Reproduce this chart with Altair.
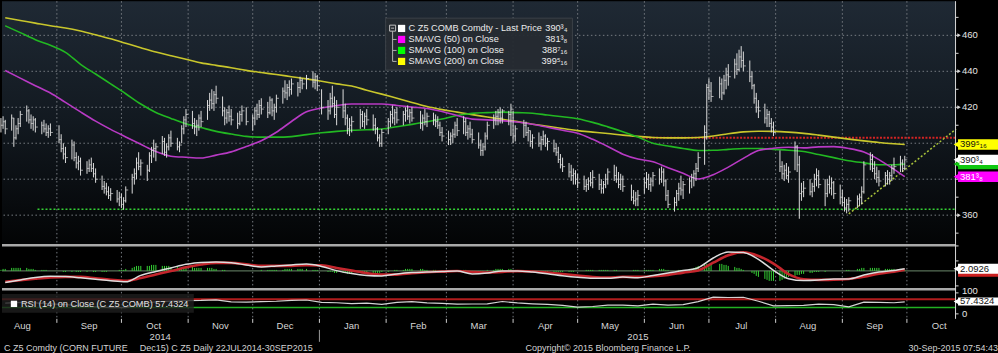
import altair as alt
import pandas as pd

# ---------------------------------------------------------------- data
# daily bars per trading day: (high, low, close, macd histogram)
aug_2014 = [(414,406,410,1),(415,408,412,2),(413,405,408,2),(416,407,414,3),(414,398,403,3),(410,402,408,3),
            (414,405,411,3),(418,409,416,3),(421,412,418,3),(419,411,413,2),(416,408,411,2),(415,407,413,2),
            (414,406,409,1),(412,405,410,1),(413,406,408,1),(411,404,406,1),(410,403,408,0),(411,404,406,0)]
sep_2014 = [(410,400,402,0),(405,395,397,0),(400,391,394,-1),(398,389,392,-1),(402,391,399,-1),(401,390,392,0),
            (395,386,389,-1),(393,385,390,-1),(392,382,385,-1),(390,383,386,-1),(391,384,388,0),(392,384,386,0),
            (389,381,383,-1),(386,378,380,-1),(382,374,376,-1),(379,372,375,-1),(378,371,373,-1),(376,369,371,0),
            (375,368,372,0),(374,367,369,0),(373,365,370,1)]
oct_2014 = [(372,364,366,1),(370,363,368,1),(376,367,374,2),(383,372,381,3),(386,377,383,4),(392,380,389,5),
            (395,385,387,5),(391,382,389,5),(388,379,385,5),(395,384,393,5),(398,389,396,6),(402,392,397,6),
            (400,390,398,6),(404,394,401,5),(403,393,395,5),(400,392,398,5),(405,396,403,5),(407,398,400,4),
            (403,396,398,4),(401,395,399,3),(410,400,408,3),(415,405,413,4),(419,409,416,4)]
nov_2014 = [(418,408,411,4),(414,405,409,3),(413,404,410,3),(416,407,414,3),(418,409,412,3),(424,413,421,3),
            (428,418,424,3),(430,419,422,3),(429,418,427,2),(432,422,425,2),(426,415,418,1),(420,410,414,1),
            (419,411,417,0),(421,412,415,0),(419,410,413,0),(417,408,411,0),(418,410,416,0),(421,412,418,0),
            (420,410,412,0)]
dec_2014 = [(416,407,414,0),(420,410,418,0),(422,413,416,0),(424,414,421,0),(425,416,419,1),(423,414,417,1),
            (426,416,424,1),(425,415,418,1),(422,413,420,1),(427,417,425,1),(431,422,429,1),(435,425,428,2),
            (433,424,431,2),(435,426,430,2),(436,427,433,2),(434,426,431,2),(437,428,435,2),(436,430,433,2),
            (438,430,436,2),(440,431,434,1),(439,430,437,1),(438,429,432,1)]
jan_2015 = [(430,416,420,0),(424,413,418,-1),(428,416,425,-1),(432,420,422,-1),(426,414,416,-2),(424,410,420,-2),
            (430,414,418,-2),(422,410,414,-2),(416,405,408,-3),(414,404,410,-3),(415,406,412,-3),(419,408,416,-2),
            (418,409,412,-2),(417,408,415,-2),(419,410,413,-2),(416,407,410,-2),(414,405,408,-2),(409,401,403,-2),
            (405,398,400,-2),(408,398,406,-1)]
feb_2015 = [(414,405,412,-1),(418,409,416,0),(421,411,414,0),(419,410,417,1),(420,411,413,1),(418,410,416,1),
            (420,412,418,2),(421,413,415,2),(419,411,417,2),(420,412,414,2),(418,408,411,2),(416,407,414,2),
            (419,410,412,1),(417,409,415,1),(417,410,413,1),(416,409,412,1),(415,408,410,0),(412,404,406,0),
            (409,401,404,0)]
mar_2015 = [(407,399,402,0),(406,399,404,-1),(408,400,405,-1),(412,403,410,0),(414,404,407,0),(415,405,412,1),
            (414,404,406,1),(410,402,408,0),(412,403,405,0),(408,400,402,-1),(406,397,399,-1),(402,393,396,-1),
            (400,393,398,-1),(406,396,404,0),(412,402,410,1),(416,408,413,1),(418,410,415,2),(419,410,417,2),
            (420,411,414,2),(419,411,418,2),(418,410,416,2),(422,404,419,2)]
apr_2015 = [(418,400,404,1),(410,401,408,1),(413,403,410,0),(412,404,406,0),(409,401,407,0),(407,398,401,-1),
            (405,397,403,-1),(406,398,400,-1),(404,396,402,-1),(407,399,404,-1),(405,398,400,-1),(403,396,401,-1),
            (402,395,397,-1),(400,393,395,-1),(398,389,391,-1),(394,386,388,-1),(392,384,387,-1),(389,381,384,-1),
            (388,379,382,-1),(386,377,383,-1),(385,377,380,0)]
may_2015 = [(383,375,378,0),(382,374,376,0),(380,373,377,1),(381,374,379,1),(384,376,378,1),(385,375,381,1),
            (383,374,377,1),(380,372,375,1),(379,372,377,1),(383,375,380,1),(386,377,384,1),(388,379,382,1),
            (387,378,380,1),(384,375,377,0),(383,374,380,0),(382,373,376,0),(377,368,370,0),(374,366,368,1),
            (373,365,369,1),(374,365,371,1)]
jun_2015 = [(381,372,378,1),(384,375,380,1),(383,374,377,1),(381,373,379,1),(384,376,382,1),(386,377,380,2),
            (387,378,384,2),(386,376,379,2),(380,368,371,1),(374,364,366,1),(370,362,367,0),(374,365,372,0),
            (378,368,375,1),(382,371,374,1),(379,369,377,1),(381,372,379,2),(383,375,381,2),(385,376,383,3),
            (389,379,386,4),(395,384,392,5),(410,388,406,6),(433,402,431,7)]
jul_2015 = [(436,424,429,7),(434,423,426,7),(437,425,433,7),(436,424,428,7),(438,427,435,6),(442,430,438,6),
            (444,432,437,5),(447,436,444,4),(450,438,441,3),(452,440,448,3),(454,442,446,2),(451,440,443,1),
            (446,434,437,0),(440,430,432,-2),(433,422,425,-3),(428,417,420,-5),(424,414,418,-6),(422,411,414,-8),
            (419,409,416,-9),(418,409,411,-10),(414,406,409,-10),(412,404,406,-10)]
aug_2015 = [(396,384,387,-10),(390,380,383,-9),(388,379,385,-8),(389,380,382,-7),(387,378,384,-6),(401,385,398,-5),
            (399,384,388,-4),(393,358,372,-4),(378,368,373,-3),(379,370,375,-3),(380,371,373,-2),(378,370,376,-2),
            (383,373,380,-1),(386,376,382,-1),(385,375,377,-1),(380,365,372,-1),(380,370,377,0),(382,372,375,0),
            (381,371,378,0),(379,369,372,0),(377,366,370,0)]
sep_2015 = [(374,365,367,0),(370,362,364,0),(369,361,366,1),(370,362,368,1),(371,364,369,2),(372,365,370,2),
            (376,366,373,3),(390,372,388,3),(395,385,391,3),(394,384,386,3),(390,380,383,3),(387,378,381,3),
            (385,376,379,3),(384,376,382,2),(385,377,380,2),(384,377,382,2),(388,379,386,2),(392,383,387,2),
            (393,384,389,2),(391,384,386,1),(393,385,390.75,1)]

month_keys = ["2014-08", "2014-09", "2014-10", "2014-11", "2014-12", "2015-01", "2015-02",
              "2015-03", "2015-04", "2015-05", "2015-06", "2015-07", "2015-08", "2015-09"]
month_bars = [aug_2014, sep_2014, oct_2014, nov_2014, dec_2014, jan_2015, feb_2015,
              mar_2015, apr_2015, may_2015, jun_2015, jul_2015, aug_2015, sep_2015]
holidays = ["2014-09-01", "2014-11-27", "2014-12-25", "2015-01-01", "2015-01-19",
            "2015-02-16", "2015-04-03", "2015-05-25", "2015-07-03", "2015-09-07"]

# weekly readings (each Friday from 08 Aug 2014, plus 30 Sep 2015)
week_sma200 = [469.8,468.3,466.8,465.3,464.1,462.4,460.3,458.1,455.6,453.1,
               450.7,448.7,446.7,444.7,443.3,442.0,440.5,439.3,438.2,437.0,
               435.8,434.5,433.0,431.8,429.5,427.3,425.0,422.7,420.4,418.7,
               417.3,415.9,414.6,413.3,412.0,410.6,409.4,408.2,407.0,406.2,
               405.4,404.5,403.8,403.2,403.0,403.0,403.2,404.0,405.3,406.3,
               406.7,406.6,406.2,405.5,404.5,403.4,402.3,401.3,400.4,399.7,
               399.3]
week_sma100 = [465.3,461.5,457.6,454.5,450.5,443.9,438.5,433.0,427.5,421.8,
               417.1,413.8,410.8,408.7,406.6,405.1,403.8,403.4,403.4,403.7,
               404.8,405.8,406.6,407.2,407.5,407.9,409.2,410.5,411.9,413.5,
               415.4,416.6,417.0,417.3,417.0,416.7,415.7,414.7,413.6,411.6,
               409.1,406.4,403.4,400.0,398.5,397.1,396.0,396.1,396.6,397.1,
               397.1,396.6,396.1,395.4,393.7,392.0,390.3,389.1,388.0,388.0,
               388.4]
week_sma50 = [440.4,436.2,432.0,427.9,422.7,417.4,412.3,407.7,403.5,399.4,
              395.4,392.8,392.2,391.8,393.4,395.2,398.2,401.4,406.1,412.1,
              417.5,419.6,421.0,421.8,421.8,421.8,421.0,420.1,419.3,417.6,
              415.4,413.4,413.0,412.5,411.8,410.6,408.9,407.2,405.6,402.2,
              398.2,393.9,391.2,389.7,386.4,383.3,380.1,382.5,386.7,391.6,
              395.9,397.2,397.8,397.4,398.0,398.1,397.1,395.1,390.9,385.5,
              381.4]
week_macd = [-11.5,-9.0,-6.5,-5.3,-5.6,-6.9,-8.4,-9.9,-10.9,-4.5,
             -0.6,3.0,6.6,8.5,8.8,8.1,6.0,4.0,5.0,6.0,
             6.8,4.5,0.3,-2.7,-4.5,-5.0,-3.0,-1.7,-1.2,-0.7,
             -0.1,-3.0,-2.1,0.0,0.0,-1.1,-2.8,-4.8,-6.4,-7.4,
             -7.4,-6.1,-6.9,-4.6,-2.0,0.3,3.2,12.9,19.0,18.4,
             11.6,0.6,-7.8,-9.7,-9.2,-8.0,-8.0,-4.1,-1.2,0.3,
             2.0926]
week_signal = [-10.8,-9.2,-7.8,-6.6,-6.0,-6.0,-7.4,-8.9,-9.9,-7.2,
               -3.5,-0.2,3.6,6.4,8.0,8.0,6.5,5.0,5.0,5.0,
               5.7,5.5,3.0,0.3,-2.2,-3.7,-3.7,-2.3,-1.3,-0.7,
               -0.1,-1.1,-1.7,-1.0,-0.2,-0.6,-1.6,-3.1,-4.6,-6.1,
               -6.7,-6.0,-6.0,-5.4,-4.0,-1.7,0.4,8.2,15.6,18.6,
               15.0,7.4,-3.2,-8.3,-9.0,-8.9,-8.1,-5.9,-2.8,-0.7,
               1.0]
week_rsi = [51,55,52,48,44,38,34,30,30,49,
            57,61,63,64,67,57,56,58,60,64,
            66,55,53,49,51,45,55,58,52,50,
            46,47,48,59,52,48,45,40,32,35,
            42,42,38,46,42,44,58,80,78,79,
            60,38,39,40,46,44,33,56,55,53,
            57.4324]

month_starts = ["2014-09-01", "2014-10-01", "2014-11-01", "2014-12-01", "2015-01-01", "2015-02-01",
                "2015-03-01", "2015-04-01", "2015-05-01", "2015-06-01", "2015-07-01", "2015-08-01",
                "2015-09-01", "2015-10-01"]
month_names = ["Aug", "Sep", "Oct", "Nov", "Dec", "Jan", "Feb", "Mar", "Apr", "May", "Jun", "Jul",
               "Aug", "Sep", "Oct"]
month_label_dates = ["2014-08-16", "2014-09-16", "2014-10-16", "2014-11-16", "2014-12-16", "2015-01-16",
                     "2015-02-16", "2015-03-16", "2015-04-16", "2015-05-16", "2015-06-16", "2015-07-16",
                     "2015-08-16", "2015-09-16", "2015-10-16"]
year_names = ["2014", "2015"]
year_label_dates = ["2014-10-19", "2015-05-29"]
price_grid = [360, 380, 400, 420, 440, 460]
price_ticks = [350, 360, 370, 380, 390, 400, 410, 420, 430, 440, 450, 460, 470]
price_labels = [360, 420, 440, 460]          # 380 and 400 sit behind the last-value boxes
macd_ticks = [-15, 10, 25]
rsi_labels = [0, 100]

legend_labels = ["C Z5 COMB Comdty - Last Price", "SMAVG (50) on Close",
                 "SMAVG (100) on Close", "SMAVG (200) on Close"]
legend_values = ["390\u00b3\u2084", "381\u00b3\u2088", "388\u2077\u2081\u2086", "399\u2075\u2081\u2086"]
legend_colors = ["#ffffff", "#ff00ff", "#00ff00", "#ffff00"]

last_values = [399.3, 388.4, 390.75, 381.4]
last_labels = ["399\u2075\u2081\u2086", "", "390\u00b3\u2084", "381\u00b3\u2088"]
last_fills = ["#ffff00", "#10c810", "#ffffff", "#ff00ff"]
last_text = ["#111111", "#111111", "#111111", "#ffffff"]

support = {"start": "2014-08-23", "end": "2015-10-23T20:00:00", "level": 363.3}
resistance = {"start": "2015-05-31", "end": "2015-10-23T20:00:00", "level": 403.0}
trend = {"start": "2015-09-04", "end": "2015-10-23T20:00:00", "p1": 360.7, "p2": 407.9}

footer_left = [("C Z5 Comdty (CORN FUTURE", 2), ("Dec15) C Z5  Daily 22JUL2014-30SEP2015", 138),
               ("Copyright\u00a9 2015 Bloomberg Finance L.P.", 524)]
footer_right = "30-Sep-2015 07:54:43"

# ---------------------------------------------------------------- tables
def ts(s):
    return s if "T" in s else s + "T00:00:00"

days = pd.bdate_range("2014-08-06", "2015-09-30")
days = days[~days.isin(pd.to_datetime(holidays))]
rows = []
for key, vals in zip(month_keys, month_bars):
    md = [d for d in days if d.strftime("%Y-%m") == key]
    for d, (h, l, c, hg) in zip(md, vals):
        rows.append({"date": d.strftime("%Y-%m-%dT00:00:00"), "high": h, "low": l, "close": c, "hist": hg})
bars = pd.DataFrame(rows)

wdates = [d.strftime("%Y-%m-%dT00:00:00") for d in pd.date_range("2014-08-08", "2015-09-25", freq="W-FRI")]
wdates.append("2015-09-30T00:00:00")
n = min(len(wdates), len(week_sma50))
weekly = pd.DataFrame({"date": wdates[:n], "sma50": week_sma50[:n], "sma100": week_sma100[:n],
                       "sma200": week_sma200[:n], "macd": week_macd[:n], "signal": week_signal[:n],
                       "rsi": week_rsi[:n]})

grid_df = pd.DataFrame({"d": [ts(s) for s in month_starts]})
mlab_df = pd.DataFrame({"d": [ts(s) for s in month_label_dates], "name": month_names})
ylab_df = pd.DataFrame({"d": [ts(s) for s in year_label_dates], "name": year_names})

# ---------------------------------------------------------------- style
W = 955
H_MAIN, H_MACD, H_RSI, H_FOOT = 243, 44, 31, 35
FONT = "Liberation Sans, Arial, sans-serif"
GRID = "#767b82"
DASH = [1.5, 2.5]
AXC = "#d8d8d8"

xscale = alt.Scale(domain=[alt.DateTime(year=2014, month=8, date=6, hours=12),
                           alt.DateTime(year=2015, month=10, date=23, hours=20)], nice=False)
ymain = alt.Scale(domain=[344, 479], nice=False, zero=False)
ymacd = alt.Scale(domain=[-17, 27], nice=False, zero=False)
yrsi = alt.Scale(domain=[-23.8, 123.8], nice=False, zero=False)


def XT(field):
    return alt.X(field + ":T", scale=xscale, axis=None)


one = alt.Data(values=[{}])


def right_axis(yscale, height, tick_vals, label_vals, major=True, dy=0):
    """Right-hand axis drawn with marks: domain line, ticks, labels."""
    layers = [alt.Chart(one).mark_rule(color=AXC, strokeWidth=1).encode(
        x=alt.value(954.5), y=alt.value(0), y2=alt.value(height))]
    layers.append(alt.Chart(pd.DataFrame({"t": tick_vals})).mark_rule(color=AXC, strokeWidth=1).encode(
        x=alt.value(954.5), x2=alt.value(957.5), y=alt.Y("t:Q", scale=yscale, axis=None)))
    if label_vals:
        if major:
            layers.append(alt.Chart(pd.DataFrame({"t": label_vals})).mark_point(
                shape="triangle-right", filled=True, size=16, color=AXC, opacity=1).encode(
                x=alt.value(958), y=alt.Y("t:Q", scale=yscale, axis=None)))
        layers.append(alt.Chart(pd.DataFrame({"t": label_vals})).mark_text(
            align="left", baseline="middle", font=FONT, fontSize=9.5, color="#e6e6e6", dy=dy).encode(
            x=alt.value(961), y=alt.Y("t:Q", scale=yscale, axis=None), text="t:Q"))
    return layers


vgrid = alt.Chart(grid_df).mark_rule(color=GRID, strokeDash=DASH, strokeWidth=1).encode(x=XT("d"))

# ---------------------------------------------------------------- main panel
bg = alt.Chart(one).mark_rect(fill={
    "gradient": "linear", "x1": 0, "x2": 0, "y1": 0, "y2": 1,
    "stops": [{"offset": 0, "color": "#1f2934"}, {"offset": 0.5, "color": "#121920"},
              {"offset": 1, "color": "#030405"}]}).encode(
    x=alt.value(0), x2=alt.value(W), y=alt.value(0), y2=alt.value(H_MAIN))

hgrid = alt.Chart(pd.DataFrame({"level": price_grid})).mark_rule(
    color=GRID, strokeDash=DASH, strokeWidth=1).encode(
    y=alt.Y("level:Q", scale=ymain, axis=None))


def hline(d, color, width, dash):
    return alt.Chart(pd.DataFrame([d])).mark_rule(color=color, strokeWidth=width, strokeDash=dash).encode(
        x=alt.X("start:T", scale=xscale, axis=None), x2="end:T",
        y=alt.Y("level:Q", scale=ymain, axis=None))


sup = hline({"start": ts(support["start"]), "end": support["end"], "level": support["level"]},
            "#35d035", 1.5, [2, 2])
res = hline({"start": ts(resistance["start"]), "end": resistance["end"], "level": resistance["level"]},
            "#d42424", 2, [2, 1.5])
trd = alt.Chart(pd.DataFrame([{"start": ts(trend["start"]), "end": trend["end"],
                               "p1": trend["p1"], "p2": trend["p2"]}])).mark_rule(
    color="#a8c23a", strokeWidth=1.5, strokeDash=[2, 2]).encode(
    x=alt.X("start:T", scale=xscale, axis=None), x2="end:T",
    y=alt.Y("p1:Q", scale=ymain, axis=None), y2="p2:Q")


def ma(col, color):
    return alt.Chart(weekly).mark_line(color=color, strokeWidth=1.6, interpolate="monotone").encode(
        x=XT("date"), y=alt.Y(col + ":Q", scale=ymain, axis=None))


sma200 = ma("sma200", "#c8c62c")
sma100 = ma("sma100", "#22b822")
sma50 = ma("sma50", "#b83ac4")

hl = alt.Chart(bars).mark_rule(color="#dcdcdc", strokeWidth=1).encode(
    x=XT("date"), y=alt.Y("low:Q", scale=ymain, axis=None), y2="high:Q")
cl = alt.Chart(bars).mark_tick(color="#dcdcdc", orient="horizontal", size=2.5, thickness=1,
                               xOffset=1.25).encode(
    x=XT("date"), y=alt.Y("close:Q", scale=ymain, axis=None))

leg_df = pd.DataFrame({"label": legend_labels, "value": legend_values, "color": legend_colors,
                       "row": list(range(len(legend_labels)))})
PY = alt.Y("py:Q", scale=None, axis=None)
leg_box = alt.Chart(one).mark_rect(fill="#262b31", fillOpacity=0.95, stroke="#3b4047").encode(
    x=alt.value(384), x2=alt.value(571), y=alt.value(17), y2=alt.value(69))
leg_base = alt.Chart(leg_df).transform_calculate(py="27.3 + 11 * datum.row")
leg_sq = leg_base.mark_square(size=52, opacity=1, filled=True).encode(
    x=alt.value(400), y=PY, color=alt.Color("color:N", scale=None))
leg_txt = leg_base.mark_text(align="left", baseline="middle", font=FONT, fontSize=9.2,
                             color="#ececec").encode(x=alt.value(407), y=PY, text="label:N")
leg_val = leg_base.mark_text(align="right", baseline="middle", font=FONT, fontSize=9.2,
                             color="#ececec").encode(x=alt.value(566), y=PY, text="value:N")
leg_stub = leg_base.transform_filter("datum.row > 0").mark_rule(color="#b0b0b0").encode(
    x=alt.value(391), x2=alt.value(395), y=PY)
leg_vline = alt.Chart(one).mark_rule(color="#b0b0b0").encode(
    x=alt.value(391), y=alt.value(30), y2=alt.value(60.3))
leg_minus = alt.Chart(one).mark_rect(fill="#262b31", stroke="#c0c0c0", strokeWidth=1).encode(
    x=alt.value(388), x2=alt.value(394), y=alt.value(24), y2=alt.value(30))
leg_minus2 = alt.Chart(one).mark_rule(color="#c0c0c0").encode(
    x=alt.value(389.5), x2=alt.value(392.5), y=alt.value(27))


def value_boxes(df, yscale, half, text_col="txt"):
    base = alt.Chart(df).transform_calculate(top=f"datum.v + {half}", bot=f"datum.v - {half}")
    rect = base.mark_rect().encode(
        x=alt.value(957), x2=alt.value(997),
        y=alt.Y("top:Q", scale=yscale, axis=None), y2="bot:Q",
        color=alt.Color("fill:N", scale=None))
    tip = base.mark_point(shape="triangle-left", filled=True, size=45, opacity=1).encode(
        x=alt.value(955.5), y=alt.Y("v:Q", scale=yscale, axis=None),
        color=alt.Color("fill:N", scale=None))
    txt = base.mark_text(align="left", baseline="middle", font=FONT, fontSize=9.5).encode(
        x=alt.value(959), y=alt.Y("v:Q", scale=yscale, axis=None), text=text_col + ":N",
        color=alt.Color("tc:N", scale=None))
    return [rect, tip, txt]


main_boxes = value_boxes(pd.DataFrame({"v": last_values, "txt": last_labels, "fill": last_fills,
                                       "tc": last_text}), ymain, 2.9)

main = alt.layer(bg, hgrid, vgrid, sup, res, trd, sma200, sma100, sma50, hl, cl,
                 leg_box, leg_vline, leg_stub, leg_minus, leg_minus2, leg_sq, leg_txt, leg_val,
                 *right_axis(ymain, H_MAIN, price_ticks, price_labels),
                 *main_boxes).properties(width=W, height=H_MAIN)

# ---------------------------------------------------------------- MACD-style panel
sep_rule = alt.Chart(one).mark_rule(color="#a9a9a9", strokeWidth=2.5).encode(
    x=alt.value(0), x2=alt.value(W), y=alt.value(1.3))
zero = alt.Chart(pd.DataFrame({"z": [0]})).mark_rule(color="#6c8a6c", strokeWidth=1).encode(
    y=alt.Y("z:Q", scale=ymacd, axis=None))
hist = alt.Chart(bars).transform_calculate(z="0").mark_rule(color="#34d234", strokeWidth=1).encode(
    x=XT("date"), y=alt.Y("z:Q", scale=ymacd, axis=None), y2="hist:Q")
sig_line = alt.Chart(weekly).mark_line(color="#c4262d", strokeWidth=2.6, interpolate="monotone").encode(
    x=XT("date"), y=alt.Y("signal:Q", scale=ymacd, axis=None))
macd_line = alt.Chart(weekly).mark_line(color="#dddddd", strokeWidth=1.5, interpolate="monotone").encode(
    x=XT("date"), y=alt.Y("macd:Q", scale=ymacd, axis=None))
sig_box = value_boxes(pd.DataFrame({"v": [week_signal[-1] - 1.8], "txt": [""], "fill": ["#cc1f1f"],
                                    "tc": ["#ffffff"]}), ymacd, 5)[0]
macd_box = value_boxes(pd.DataFrame({"v": [week_macd[-1]], "txt": [f"{week_macd[-1]:.4f}"],
                                     "fill": ["#ffffff"], "tc": ["#111111"]}), ymacd, 5)
macd = alt.layer(vgrid, zero, hist, sig_line, macd_line, sep_rule,
                 *right_axis(ymacd, H_MACD, macd_ticks, []),
                 sig_box, *macd_box).properties(width=W, height=H_MACD)

# ---------------------------------------------------------------- RSI panel
r70 = alt.Chart(pd.DataFrame({"lvl": [70]})).mark_rule(color="#b01c1c", strokeWidth=2).encode(
    y=alt.Y("lvl:Q", scale=yrsi, axis=None))
r30 = alt.Chart(pd.DataFrame({"lvl": [30]})).mark_rule(color="#22b022", strokeWidth=1.5).encode(
    y=alt.Y("lvl:Q", scale=yrsi, axis=None))
rsi_line = alt.Chart(weekly).mark_line(color="#d4d4d4", strokeWidth=1.2, interpolate="linear").encode(
    x=XT("date"), y=alt.Y("rsi:Q", scale=yrsi, axis=None))
rsi_lbl_box = alt.Chart(one).mark_rect(fill="#1e1e1e", fillOpacity=0.8).encode(
    x=alt.value(0), x2=alt.value(192), y=alt.value(6), y2=alt.value(25))
rsi_sq = alt.Chart(one).mark_square(size=40, color="#ffffff", opacity=1).encode(
    x=alt.value(12), y=alt.value(16))
rsi_txt = alt.Chart(one).mark_text(
    align="left", baseline="middle", font=FONT, fontSize=9.2, color="#e0e0e0",
    text=f"RSI (14) on Close (C Z5 COMB) {week_rsi[-1]:.4f}").encode(x=alt.value(19), y=alt.value(16))
rsi_box = value_boxes(pd.DataFrame({"v": [week_rsi[-1] + 1.5], "txt": [f"{week_rsi[-1]:.4f}"],
                                    "fill": ["#ffffff"], "tc": ["#111111"]}), yrsi, 19.5)
rsi = alt.layer(vgrid, r70, r30, rsi_line, rsi_lbl_box, rsi_sq, rsi_txt, sep_rule,
                *right_axis(yrsi, H_RSI, rsi_labels, [100], major=False, dy=-1.5),
                *right_axis(yrsi, H_RSI, [], [0], major=False, dy=0.5)[2:],
                *rsi_box).properties(width=W, height=H_RSI)

# ---------------------------------------------------------------- footer / time axis
ticks = alt.Chart(grid_df).mark_rule(color="#cfcfcf").encode(x=XT("d"), y=alt.value(0), y2=alt.value(4))
mlabels = alt.Chart(mlab_df).mark_text(font=FONT, fontSize=9.5, color="#d6d6d6", baseline="middle").encode(
    x=XT("d"), y=alt.value(7), text="name:N")
ylabels = alt.Chart(ylab_df).mark_text(font=FONT, fontSize=9.5, color="#d6d6d6", baseline="middle").encode(
    x=XT("d"), y=alt.value(18), text="name:N")
ysep = alt.Chart(pd.DataFrame({"d": [ts("2015-01-01")]})).mark_rule(color="#9a9a9a").encode(
    x=XT("d"), y=alt.value(11), y2=alt.value(23))
foot_layers = [ticks, mlabels, ylabels, ysep]
for txt, px in footer_left:
    foot_layers.append(alt.Chart(one).mark_text(align="left", baseline="middle", font=FONT, fontSize=9,
                                                color="#d4d4d4", text=txt).encode(
        x=alt.value(px), y=alt.value(29)))
foot_layers.append(alt.Chart(one).mark_text(align="right", baseline="middle", font=FONT, fontSize=9,
                                            color="#d4d4d4", text=footer_right).encode(
    x=alt.value(997), y=alt.value(29)))
foot = alt.layer(*foot_layers).properties(width=W, height=H_FOOT)

chart = alt.vconcat(main, macd, rsi, foot, spacing=0, bounds="flush").properties(
    background="#000000", padding=0).configure_view(strokeWidth=0)

chart.save("out.html", embed_options={"renderer": "svg", "actions": False})
